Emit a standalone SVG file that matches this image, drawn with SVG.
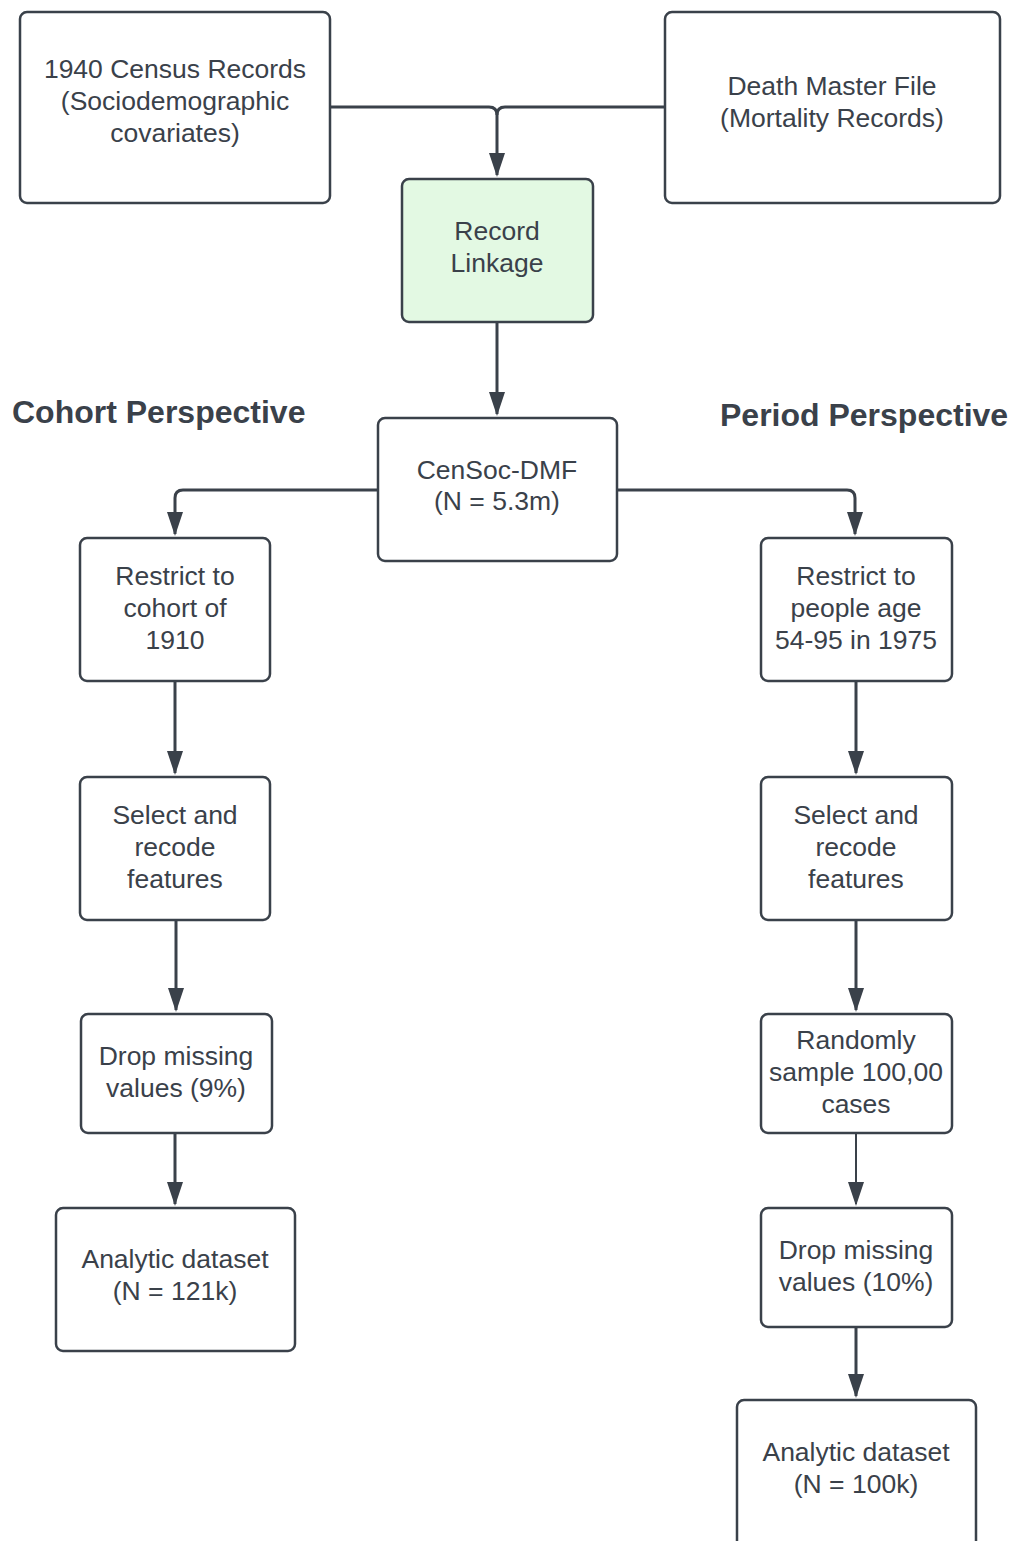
<svg xmlns="http://www.w3.org/2000/svg" width="1011" height="1541" viewBox="0 0 1011 1541">
<style>
.box{fill:#ffffff;stroke:#3a414a;stroke-width:2.5}
.green{fill:#e3f9e3}
.t{font-family:"Liberation Sans",Arial,sans-serif;font-size:26.5px;fill:#3a414a;text-anchor:middle}
.h{font-family:"Liberation Sans",Arial,sans-serif;font-size:32px;font-weight:bold;fill:#3a414a}
.c{fill:none;stroke:#3a414a;stroke-width:3}
.thin{stroke-width:2}
</style>
<defs>
<marker id="ah" markerUnits="userSpaceOnUse" markerWidth="24" markerHeight="16" refX="22" refY="8" orient="auto">
<path d="M0,0 L24,8 L0,16 z" fill="#3a414a"/>
</marker>
</defs>
<rect width="1011" height="1541" fill="#ffffff"/>
<g id="connectors">
<path class="c" d="M330,107 H489 Q497,107 497,115 V175" marker-end="url(#ah)"/>
<path class="c" d="M665,107 H505 Q497,107 497,115"/>
<path class="c" d="M497,322 V414" marker-end="url(#ah)"/>
<path class="c" d="M378,490 H183 Q175,490 175,498 V534" marker-end="url(#ah)"/>
<path class="c" d="M617,490 H847 Q855,490 855,498 V534" marker-end="url(#ah)"/>
<path class="c" d="M175,681 V773" marker-end="url(#ah)"/>
<path class="c" d="M176,920 V1010" marker-end="url(#ah)"/>
<path class="c" d="M175,1133 V1204" marker-end="url(#ah)"/>
<path class="c" d="M856,681 V773" marker-end="url(#ah)"/>
<path class="c" d="M856,920 V1010" marker-end="url(#ah)"/>
<path class="c thin" d="M856,1133 V1204" marker-end="url(#ah)"/>
<path class="c" d="M856,1327 V1396" marker-end="url(#ah)"/>
</g>
<g id="census">
<rect class="box" x="20" y="12" width="310" height="191" rx="7"/>
<text class="t" x="175" y="78">1940 Census Records</text>
<text class="t" x="175" y="110">(Sociodemographic</text>
<text class="t" x="175" y="142">covariates)</text>
</g>
<g id="dmf">
<rect class="box" x="665" y="12" width="335" height="191" rx="7"/>
<text class="t" x="832" y="95">Death Master File</text>
<text class="t" x="832" y="127">(Mortality Records)</text>
</g>
<g id="linkage">
<rect class="box green" x="402" y="179" width="191" height="143" rx="7"/>
<text class="t" x="497" y="240">Record</text>
<text class="t" x="497" y="272">Linkage</text>
</g>
<g id="cohort-title">
<text class="h" x="12" y="423">Cohort Perspective</text>
</g>
<g id="period-title">
<text class="h" x="720" y="426">Period Perspective</text>
</g>
<g id="censoc">
<rect class="box" x="378" y="418" width="239" height="143" rx="7"/>
<text class="t" x="497" y="479">CenSoc-DMF</text>
<text class="t" x="497" y="510">(N = 5.3m)</text>
</g>
<g id="restrict-cohort">
<rect class="box" x="80" y="538" width="190" height="143" rx="7"/>
<text class="t" x="175" y="585">Restrict to</text>
<text class="t" x="175" y="617">cohort of</text>
<text class="t" x="175" y="649">1910</text>
</g>
<g id="restrict-period">
<rect class="box" x="761" y="538" width="191" height="143" rx="7"/>
<text class="t" x="856" y="585">Restrict to</text>
<text class="t" x="856" y="617">people age</text>
<text class="t" x="856" y="649">54-95 in 1975</text>
</g>
<g id="select-cohort">
<rect class="box" x="80" y="777" width="190" height="143" rx="7"/>
<text class="t" x="175" y="824">Select and</text>
<text class="t" x="175" y="856">recode</text>
<text class="t" x="175" y="888">features</text>
</g>
<g id="select-period">
<rect class="box" x="761" y="777" width="191" height="143" rx="7"/>
<text class="t" x="856" y="824">Select and</text>
<text class="t" x="856" y="856">recode</text>
<text class="t" x="856" y="888">features</text>
</g>
<g id="drop-cohort">
<rect class="box" x="81" y="1014" width="191" height="119" rx="7"/>
<text class="t" x="176" y="1065">Drop missing</text>
<text class="t" x="176" y="1097">values (9%)</text>
</g>
<g id="sample-period">
<rect class="box" x="761" y="1014" width="191" height="119" rx="7"/>
<text class="t" x="856" y="1049">Randomly</text>
<text class="t" x="856" y="1081">sample 100,00</text>
<text class="t" x="856" y="1113">cases</text>
</g>
<g id="analytic-cohort">
<rect class="box" x="56" y="1208" width="239" height="143" rx="7"/>
<text class="t" x="175" y="1268">Analytic dataset</text>
<text class="t" x="175" y="1300">(N = 121k)</text>
</g>
<g id="drop-period">
<rect class="box" x="761" y="1208" width="191" height="119" rx="7"/>
<text class="t" x="856" y="1259">Drop missing</text>
<text class="t" x="856" y="1291">values (10%)</text>
</g>
<g id="analytic-period">
<rect class="box" x="737" y="1400" width="239" height="148" rx="7"/>
<text class="t" x="856" y="1461">Analytic dataset</text>
<text class="t" x="856" y="1493">(N = 100k)</text>
</g>
</svg>
